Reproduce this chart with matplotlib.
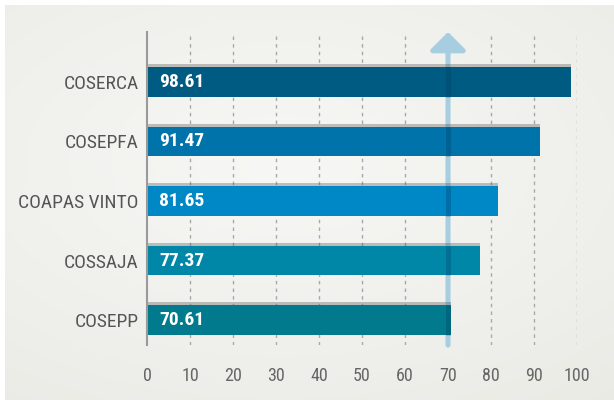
import numpy as np
import matplotlib.pyplot as plt

# ---- data ----
categories = ["COSEPP", "COSSAJA", "COAPAS VINTO", "COSEPFA", "COSERCA"]
values = [70.61, 77.37, 81.65, 91.47, 98.61]
bar_colors = ["#007a8c", "#0087a8", "#0087c6", "#0073aa", "#005b82"]
xticks = [0, 10, 20, 30, 40, 50, 60, 70, 80, 90, 100]
TARGET = 70

plt.rcParams["font.family"] = ["Roboto Condensed", "Archivo Narrow", "DejaVu Sans"]

fig = plt.figure(figsize=(6.14, 4.0), dpi=100, facecolor="white")

# background panel with soft radial light
bg = fig.add_axes([5 / 614, 0, 1 - 5 / 614, 1 - 5 / 400])
bg.set_axis_off()
yy, xx = np.mgrid[0:1:200j, 0:1:300j]
r = np.sqrt(((xx - 0.45) / 0.9) ** 2 + ((yy - 0.4) / 0.8) ** 2)
shade = np.clip(1 - r, 0, 1)
lo = np.array([234, 234, 229]) / 255
hi = np.array([247, 247, 245]) / 255
img = lo + (hi - lo) * shade[..., None]
bg.imshow(img, aspect="auto", extent=[0, 1, 0, 1], interpolation="bilinear")
bg.set_xlim(0, 1)
bg.set_ylim(0, 1)

ax = fig.add_axes([147 / 614, 55 / 400, 430 / 614, 313 / 400])
ax.patch.set_alpha(0)

y = np.arange(len(categories))
h = 0.5

# gridlines
ax.set_xlim(0, 100)
ax.set_ylim(-0.42, 4.84)
for t in xticks[1:]:
    ax.axvline(t, color="#a8a8a8", lw=1, ls=(0, (2.5, 3)), zorder=0)

# target arrow (under bars)
ax.annotate("", xy=(TARGET, 4.84), xytext=(TARGET, -0.42),
            arrowprops=dict(arrowstyle="-|>,head_width=0.55,head_length=0.55",
                            color="#a6cde0", lw=3.6, shrinkA=0, shrinkB=0,
                            mutation_scale=20),
            zorder=1, annotation_clip=False)

# bar shadows and bars
ax.barh(y + 0.035, values, height=h + 0.02, color="#555555", alpha=0.35,
        zorder=2, linewidth=0)
ax.barh(y, values, height=h, color=bar_colors, zorder=3, linewidth=0)

# darker strip where the target line crosses the bars
for yi, v in zip(y, values):
    if v >= TARGET:
        ax.vlines(TARGET, yi - h / 2, yi + h / 2, color="#003a60",
                  alpha=0.3, lw=3.6, zorder=4)

for yi, v in zip(y, values):
    ax.text(2.8, yi, f"{v:.2f}", color="white", fontsize=14,
            fontweight="bold", va="center", ha="left", zorder=5)

ax.set_yticks(y)
ax.set_yticklabels(categories, fontsize=14, color="#555555")
ax.set_xticks(xticks)
ax.set_xticklabels([str(t) for t in xticks], fontsize=13, color="#666666")
ax.tick_params(axis="both", length=0)
ax.tick_params(axis="x", pad=16)
ax.tick_params(axis="y", pad=6)

for s in ["top", "right", "bottom"]:
    ax.spines[s].set_visible(False)
ax.spines["left"].set_color("#9a9a9a")
ax.spines["left"].set_linewidth(1.5)
ax.spines["left"].set_zorder(6)

fig.savefig("out.png", dpi=100, facecolor="white")
